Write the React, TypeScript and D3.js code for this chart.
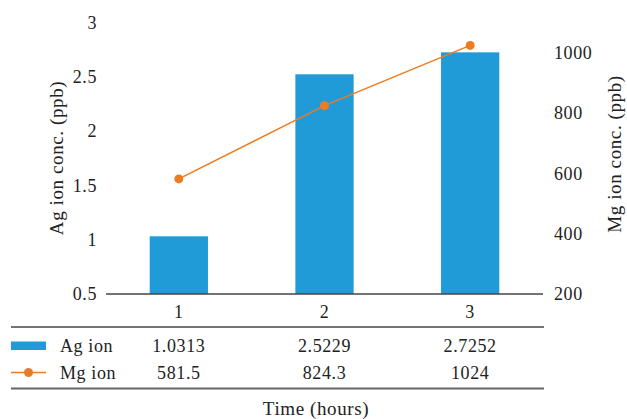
import React from "react";
import * as d3 from "d3";

const categories = ["1", "2", "3"];
const agValues = [1.0313, 2.5229, 2.7252];
const mgValues = [581.5, 824.3, 1024];
const agTicks = [0.5, 1, 1.5, 2, 2.5, 3];
const mgTicks = [200, 400, 600, 800, 1000];
const agLabels = ["1.0313", "2.5229", "2.7252"];
const mgLabels = ["581.5", "824.3", "1024"];

const W = 627;
const H = 419;
const plot = { left: 106, right: 543, top: 22.5, bottom: 294 };
const BAR = "#219bd7";
const LINE = "#ef7b21";
const AXIS = "#444444";
const TEXT = "#222";
const FONT = "'Liberation Serif', 'DejaVu Serif', serif";
const FS = 18;
const LS = 0.6;

export default function App() {
  const x = d3
    .scaleBand<string>()
    .domain(categories)
    .range([plot.left, plot.right])
    .paddingInner(0.6)
    .paddingOuter(0.3);
  const yAg = d3.scaleLinear().domain([0.5, 3]).range([plot.bottom, plot.top]);
  const yMg = d3.scaleLinear().domain([200, 1100]).range([plot.bottom, plot.top]);
  const cx = (c: string) => (x(c) ?? 0) + x.bandwidth() / 2;

  const line = d3
    .line<number>()
    .x((_, i) => cx(categories[i]))
    .y((d) => yMg(d));

  const rowAg = 345.5;
  const rowMg = 372.5;

  const txt = { fontSize: FS, fill: TEXT, letterSpacing: LS } as const;

  return (
    <svg
      width={W}
      height={H}
      style={{ position: "absolute", left: 0, top: 0, background: "#fff" }}
      fontFamily={FONT}
    >
      {/* bars: Ag ion */}
      {agValues.map((v, i) => (
        <rect
          key={i}
          x={x(categories[i])}
          y={yAg(v)}
          width={x.bandwidth()}
          height={plot.bottom - yAg(v)}
          fill={BAR}
        />
      ))}
      {/* line: Mg ion */}
      <path d={line(mgValues) ?? ""} fill="none" stroke={LINE} strokeWidth={1.5} />
      {mgValues.map((v, i) => (
        <circle key={i} cx={cx(categories[i])} cy={yMg(v)} r={4.5} fill={LINE} />
      ))}

      {/* baseline */}
      <line x1={plot.left} x2={plot.right} y1={plot.bottom} y2={plot.bottom} stroke={AXIS} strokeWidth={1.5} />

      {/* left axis labels */}
      {agTicks.map((t) => (
        <text key={t} x={97} y={yAg(t)} dy="0.35em" textAnchor="end" {...txt}>
          {t}
        </text>
      ))}
      {/* right axis labels */}
      {mgTicks.map((t) => (
        <text key={t} x={554} y={yMg(t)} dy="0.35em" textAnchor="start" {...txt}>
          {t}
        </text>
      ))}

      <text
        transform={`translate(56, 158) rotate(-90)`}
        textAnchor="middle"
        dy="0.35em"
        {...txt}
        fontSize={19}
      >
        Ag ion conc. (ppb)
      </text>
      <text
        transform={`translate(614, 154) rotate(-90)`}
        textAnchor="middle"
        dy="0.35em"
        {...txt}
        fontSize={19}
      >
        Mg ion conc. (ppb)
      </text>

      {/* category labels */}
      {categories.map((c) => (
        <text key={c} x={cx(c)} y={312} dy="0.35em" textAnchor="middle" {...txt}>
          {c}
        </text>
      ))}

      {/* data table */}
      <line x1={11} x2={544} y1={327} y2={327} stroke={AXIS} strokeWidth={1.5} />
      <line x1={11} x2={544} y1={388.5} y2={388.5} stroke="#666" strokeWidth={2} />

      <rect x={11} y={rowAg - 4} width={35} height={8.5} fill={BAR} />
      <line x1={11} x2={46} y1={rowMg} y2={rowMg} stroke={LINE} strokeWidth={1.5} />
      <circle cx={28.5} cy={rowMg} r={4.5} fill={LINE} />

      <text x={60} y={rowAg} dy="0.35em" {...txt}>Ag ion</text>
      <text x={60} y={rowMg} dy="0.35em" {...txt}>Mg ion</text>

      {agLabels.map((s, i) => (
        <text key={i} x={cx(categories[i])} y={rowAg} dy="0.35em" textAnchor="middle" {...txt}>
          {s}
        </text>
      ))}
      {mgLabels.map((s, i) => (
        <text key={i} x={cx(categories[i])} y={rowMg} dy="0.35em" textAnchor="middle" {...txt}>
          {s}
        </text>
      ))}

      <text x={316} y={408} dy="0.35em" textAnchor="middle" {...txt} fontSize={19}>
        Time (hours)
      </text>
    </svg>
  );
}
